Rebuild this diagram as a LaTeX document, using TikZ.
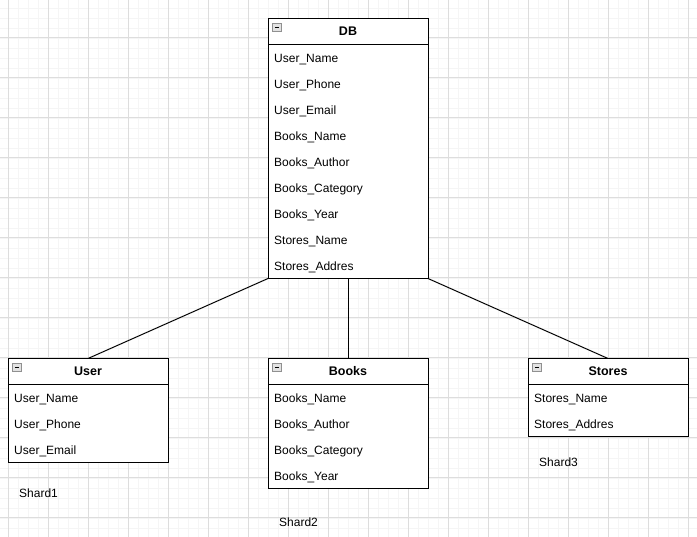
\documentclass[tikz,border=0pt]{standalone}
\usepackage{fontspec}
\setmainfont{Liberation Sans}
\usetikzlibrary{positioning,calc}
\definecolor{gridmajor}{HTML}{DDDDDD}
\definecolor{gridminor}{HTML}{F5F5F5}
\definecolor{icongray}{HTML}{E2E2E2}
\definecolor{iconedge}{HTML}{909090}

\begin{document}
\begin{tikzpicture}[
    x=1pt,y=-1pt,
    minorgrid/.style={draw=gridminor,line width=0.8pt},
    majorgrid/.style={draw=gridmajor,line width=1pt},
    head/.style={draw=black,line width=1pt,fill=white,minimum width=160pt,minimum height=26pt,inner sep=0pt,outer sep=0pt,font=\bfseries\fontsize{12.5}{14}\selectfont,text height=8.8pt,text depth=0pt},
    body/.style={draw=black,line width=1pt,fill=white,minimum width=160pt,inner sep=0pt,outer sep=0pt,anchor=north},
    field/.style={anchor=west,inner sep=0pt,font=\fontsize{12}{14}\selectfont,text height=8.6pt,text depth=0pt},
    toggle/.style={draw=iconedge,fill=icongray,minimum size=8.5pt,inner sep=0pt,line width=0.9pt,
        path picture={\draw[black,line width=1.3pt] ($(path picture bounding box.west)+(2.2,0)$) -- ($(path picture bounding box.east)+(-2.2,0)$);}},
    link/.style={draw=black,line width=1pt},
    shard/.style={anchor=west,inner sep=0pt,font=\fontsize{12}{14}\selectfont,text height=8.6pt,text depth=0pt}
]
\useasboundingbox[fill=white] (0,0) rectangle (697,537);

% background grid
\foreach \x in {8,18,...,688} \draw[minorgrid] (\x,0) -- (\x,537);
\foreach \y in {8,18,...,528} \draw[minorgrid] (0,\y) -- (697,\y);
\foreach \x in {8,48,...,688} \draw[majorgrid] (\x,0) -- (\x,537);
\foreach \y in {38,78,...,518} \draw[majorgrid] (0,\y) -- (697,\y);

% main table
\node[head] (db) at (348,31.5) {DB};
\node[body,minimum height=234pt] (dbbody) at (db.south) {};
\node[toggle] (dbicon) at ($(db.north west)+(9,9)$) {};
\foreach \f [count=\i] in {User\_Name,User\_Phone,User\_Email,Books\_Name,Books\_Author,Books\_Category,Books\_Year,Stores\_Name,Stores\_Addres}
    \node[field] (dbf\i) at ($(dbbody.north west)+(6,26*\i-12.2)$) {\f};

% shards
\node[head] (user) at (88,371.5) {User};
\node[body,minimum height=78pt] (userbody) at (user.south) {};
\node[toggle] (usericon) at ($(user.north west)+(9,9)$) {};
\foreach \f [count=\i] in {User\_Name,User\_Phone,User\_Email}
    \node[field] (userf\i) at ($(userbody.north west)+(6,26*\i-12.2)$) {\f};

\node[head] (books) at (348,371.5) {Books};
\node[body,minimum height=104pt] (booksbody) at (books.south) {};
\node[toggle] (booksicon) at ($(books.north west)+(9,9)$) {};
\foreach \f [count=\i] in {Books\_Name,Books\_Author,Books\_Category,Books\_Year}
    \node[field] (booksf\i) at ($(booksbody.north west)+(6,26*\i-12.2)$) {\f};

\node[head] (stores) at (608,371.5) {Stores};
\node[body,minimum height=52pt] (storesbody) at (stores.south) {};
\node[toggle] (storesicon) at ($(stores.north west)+(9,9)$) {};
\foreach \f [count=\i] in {Stores\_Name,Stores\_Addres}
    \node[field] (storesf\i) at ($(storesbody.north west)+(6,26*\i-12.2)$) {\f};

\draw[link] (dbbody.south west) -- (user.north);
\draw[link] (dbbody.south) -- (books.north);
\draw[link] (dbbody.south east) -- (stores.north);

\node[shard] (shard1) at (19,493) {Shard1};
\node[shard] (shard2) at (279,522.5) {Shard2};
\node[shard] (shard3) at (539,462) {Shard3};
\end{tikzpicture}
\end{document}
